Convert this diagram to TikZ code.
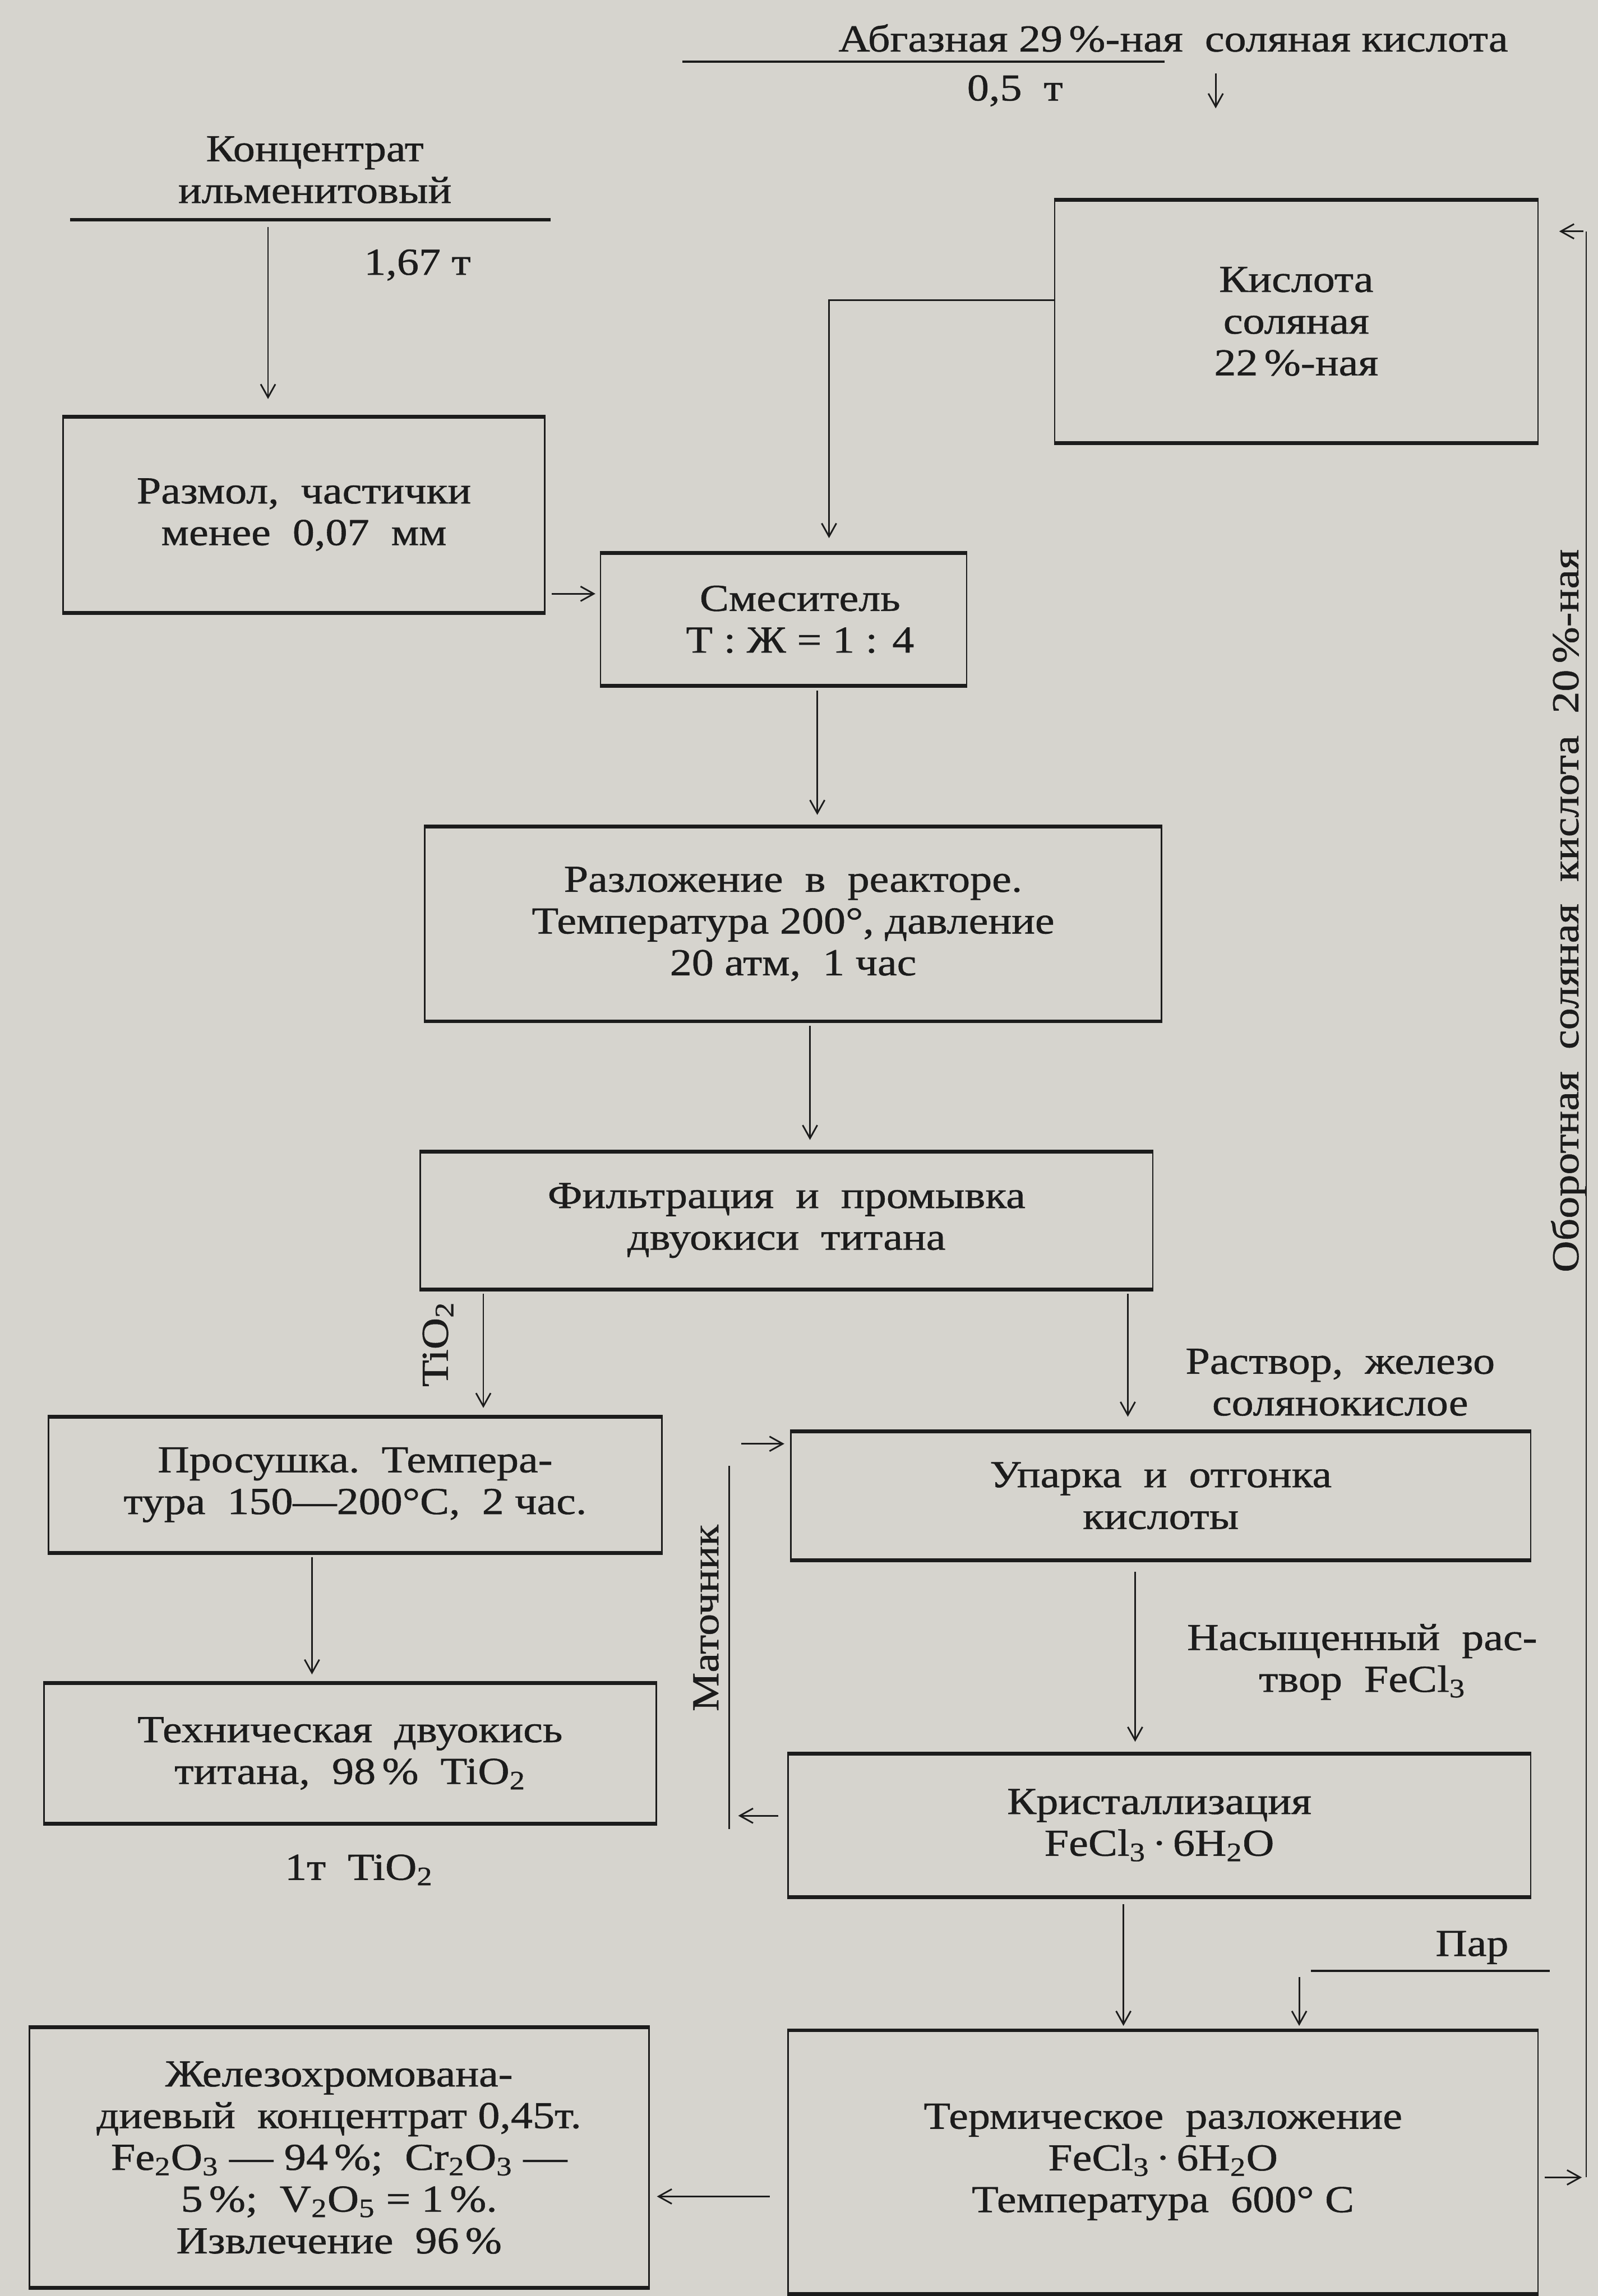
\documentclass[tikz,border=0pt]{standalone}
\usepackage{fontspec}
\setmainfont[FakeStretch=1.15,FakeBold=0.8]{Liberation Serif}
\usetikzlibrary{arrows.meta}
\definecolor{paper}{RGB}{214,212,206}
\definecolor{ink}{RGB}{28,28,28}
\newcommand{\fs}{\fontsize{26}{28.5}\selectfont}
\newcommand{\lsub}[1]{\textsubscript{#1}}

\tikzset{every picture/.style={line width=1pt}}
\tikzset{
  stage/.style={draw=ink, line width=1pt, align=center, inner sep=0pt, text=ink, font=\fs,
    append after command={
      (\tikzlastnode.north west) edge[ink, line width=2.6pt] (\tikzlastnode.north east)
      (\tikzlastnode.south west) edge[ink, line width=2.6pt] (\tikzlastnode.south east)}},
  lbl/.style={inner sep=0.75pt, align=center, text=ink, font=\fs},
  flow/.style={draw=ink, line width=1.1pt, -{Straight Barb[length=9pt,width=10pt]}},
  pipe/.style={draw=ink, line width=1.1pt},
  rule/.style={draw=ink, line width=2.4pt},
}

\begin{document}
\begin{tikzpicture}[x=1pt,y=1pt,yscale=-1,xscale=1]
     \useasboundingbox (0,0) rectangle (1091,1568);
     \fill[paper] (0,0) rectangle (1091,1568);
     % Text Node
     \node[lbl] (abgaz) at (801,26) {Абгазная 29\,\%-ная\ \ соляная кислота};
     \node[lbl] (abgazm) at (693,62) {0,5\ \ т};
     \coordinate (abgaz-a) at (830,50);
     \coordinate (abgaz-b) at (830,74);
     \draw[rule, line width=1.6pt] (466,42) -- (795,42);
     \draw[flow] (abgaz-a) -- (abgaz-b);
     % Text Node
     \node[lbl] (konc) at (215,116) {Концентрат\\ильменитовый};
     \draw[rule] (48,150) -- (376,150);
     \node[lbl] (koncm) at (285,181) {1,67 т};
     \coordinate (konc-out) at (183,155);
     %Shape: Rectangle
     \node[stage, minimum width=330pt, minimum height=165pt] (kisl) at (885,219.5) {Кислота\\соляная\\22\,\%-ная};
     \node[stage, minimum width=329pt, minimum height=133pt] (razmol) at (207.5,351.5) {Размол,\ \ частички\\менее\ \ 0,07\ \ мм};
     \node[stage, minimum width=250pt, minimum height=90pt] (smes) at (535,423) {\ \ \ Смеситель\\\ \ \ Т : Ж = 1 : 4};
     \node[stage, minimum width=503pt, minimum height=132pt] (razl) at (541.5,631) {Разложение\ \ в\ \ реакторе.\\Температура 200°,\ давление\\20 атм,\ \ 1 час};
     \node[stage, minimum width=500pt, minimum height=93pt] (filt) at (537,833.5) {Фильтрация\ \ и\ \ промывка\\двуокиси\ \ титана};
     \node[stage, minimum width=419pt, minimum height=92pt] (prosh) at (242.5,1014) {Просушка.\ \ Темпера-\\тура\ \ 150---200°С,\ \ 2 час.};
     \node[stage, minimum width=418pt, minimum height=95pt] (tekh) at (239,1197.5) {Техническая\ \ двуокись\\титана,\ \ 98\,\%\ \ TiO\lsub{2}};
     \node[lbl] (tekhm) at (245,1277) {1т\ \ TiO\lsub{2}};
     \node[stage, minimum width=505pt, minimum height=87pt] (upar) at (792.5,1021.5) {Упарка\ \ и\ \ отгонка\\кислоты};
     \node[stage, minimum width=507pt, minimum height=97pt] (krist) at (791.5,1246.5) {Кристаллизация\\FeCl\lsub{3}\,·\,6H\lsub{2}O};
     \node[stage, minimum width=512pt, minimum height=179pt] (term) at (794,1476.5) {Термическое\ \ разложение\\FeCl\lsub{3}\,·\,6H\lsub{2}O\\Температура\ \ 600°\ С};
     \node[stage, minimum width=423pt, minimum height=177pt] (zhel) at (231.5,1473.5) {Железохромована-\\диевый\ \ концентрат 0,45т.\\Fe\lsub{2}O\lsub{3} --- 94\,\%;\ \ Cr\lsub{2}O\lsub{3} ---\\5\,\%;\ \ V\lsub{2}O\lsub{5} = 1\,\%.\\Извлечение\ \ 96\,\%};
     % Text Node
     \node[lbl, rotate=90] (tio) at (299,918) {TiO\lsub{2}};
     \node[lbl] (rastv) at (915,944) {Раствор,\ \ железо\\солянокислое};
     \node[lbl] (nasyshch) at (930,1135) {Насыщенный\ \ рас-\\твор\ \ FeCl\lsub{3}};
     \node[lbl, rotate=90] (matoch) at (482,1105) {Маточник};
     \node[lbl] (par) at (1005,1330) {Пар};
     \draw[rule, line width=1.8pt] (895,1346) -- (1058,1346);
     \coordinate (par-out) at (887,1350);
     \node[lbl, rotate=90] (oborot) at (1071,622) {Оборотная\ \ соляная\ \ кислота\ \ 20\,\%-ная};
     %Straight Lines
     \draw[flow, shorten >=12pt] (konc-out) -- (konc-out |- razmol.north);
     \draw[flow, shorten >=10pt] ([yshift=-14.5pt]kisl.west) -| (566,0 |- smes.north);
     \draw[flow, shorten <=4pt, shorten >=3pt] ([yshift=-13pt]razmol.south east) -- ([yshift=-13pt]razmol.south east -| smes.west);
     \draw[flow, shorten <=3pt, shorten >=8pt] ([xshift=23pt]smes.south) -- ([xshift=23pt]smes.south |- razl.north);
     \draw[flow, shorten <=3pt, shorten >=8pt] ([xshift=11.5pt]razl.south) -- ([xshift=11.5pt]razl.south |- filt.north);
     \draw[flow, shorten <=3pt, shorten >=6pt] (filt.south -| 330,0) -- (prosh.north -| 330,0);
     \draw[flow, shorten <=3pt, shorten >=10pt] (filt.south -| 770,0) -- (upar.north -| 770,0);
     \draw[flow, shorten <=3pt, shorten >=6pt] (prosh.south -| 213,0) -- (tekh.north -| 213,0);
     \draw[flow, shorten <=8pt, shorten >=8pt] (upar.south -| 775,0) -- (krist.north -| 775,0);
     \draw[flow, shorten <=5pt, shorten >=3pt] (krist.south -| 767,0) -- (term.north -| 767,0);
     \draw[flow, shorten >=3pt] (par-out) -- (par-out |- term.north);
     % mother liquor loop
     \coordinate (mat-low) at (498,1240);
     \coordinate (mat-bot) at (498,1249);
     \coordinate (mat-mid) at (498,1001);
     \coordinate (mat-top) at (498,986);
     \draw[flow, shorten <=6pt, shorten >=6pt] (krist.west |- mat-low) -- (mat-low);
     \draw[pipe] (mat-bot) -- (mat-mid);
     \draw[flow, shorten <=8pt, shorten >=4pt] (mat-top) -- (upar.west |- mat-top);
     % products
     \draw[flow, shorten <=12pt, shorten >=5pt] ([yshift=23.5pt]term.west) -- ([yshift=23.5pt]term.west -| zhel.east);
     % recycle acid
     \coordinate (ret-low) at (1083,1487);
     \coordinate (ret-top) at (1083,158);
     \draw[flow, shorten <=4pt, shorten >=3pt] (term.east |- ret-low) -- (ret-low);
     \draw[pipe, line width=0.8pt] (ret-low) -- (ret-top);
     \draw[flow, shorten <=2pt, shorten >=14pt] (ret-top) -- (kisl.east |- ret-top);
\end{tikzpicture}
\end{document}
